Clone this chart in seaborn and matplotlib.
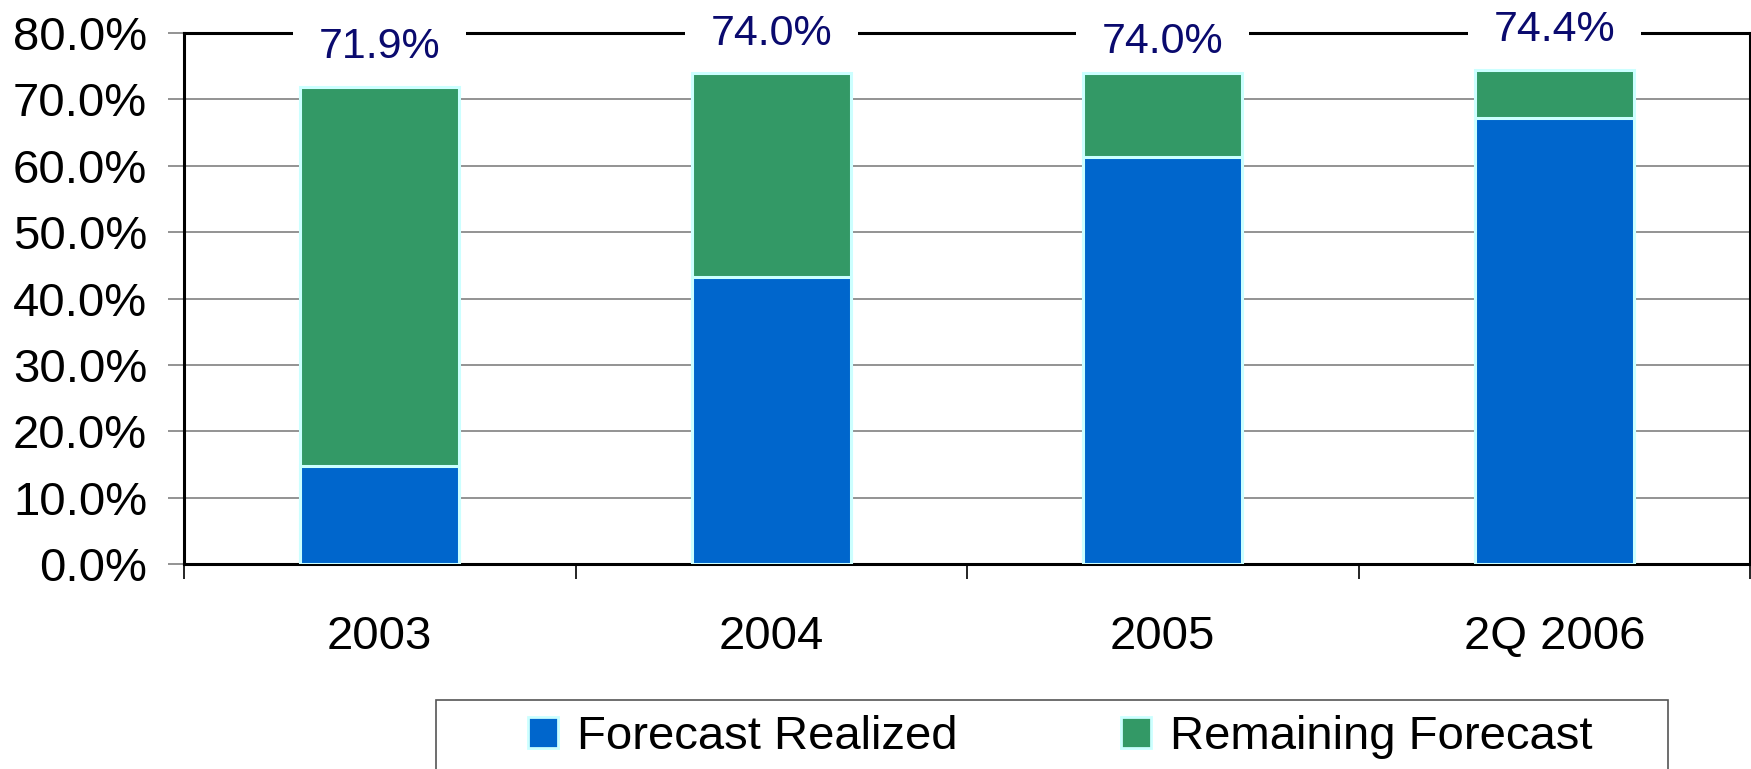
import matplotlib
matplotlib.use("Agg")
import matplotlib.pyplot as plt
from matplotlib.patches import Patch, Rectangle
import seaborn as sns
import pandas as pd

# Forecast progress per period (percent)
periods = ["2003", "2004", "2005", "2Q 2006"]
forecast_total = [71.9, 74.0, 74.0, 74.4]
forecast_realized = [14.8, 43.3, 61.3, 67.2]
total_labels = ["71.9%", "74.0%", "74.0%", "74.4%"]
y_ticks = [0, 10, 20, 30, 40, 50, 60, 70, 80]
series_names = ["Forecast Realized", "Remaining Forecast"]

# vertical placement of the total labels (axis units)
label_heights = [77.9, 79.9, 78.7, 80.4]

BLUE = "#0066cc"
GREEN = "#339966"
EDGE = "#ccffff"
NAVY = "#0a0a6e"

sns.set_theme(style="white")
plt.rcParams["font.family"] = ["Liberation Sans", "DejaVu Sans"]
plt.rcParams["text.color"] = "black"

df = pd.DataFrame({"period": periods,
                   "total": forecast_total,
                   "realized": forecast_realized})

W, H = 1751, 769
fig = plt.figure(figsize=(W / 100, H / 100), dpi=100)
ax = fig.add_axes([184 / W, 1 - 564 / H, 1566 / W, 531 / H])

# remaining part: full-height green bar, realized part drawn over it
sns.barplot(data=df, x="period", y="total", color=GREEN, width=0.405,
            edgecolor=EDGE, linewidth=2.2, saturation=1, errorbar=None,
            ax=ax, zorder=7)
sns.barplot(data=df, x="period", y="realized", color=BLUE, width=0.405,
            edgecolor=EDGE, linewidth=2.2, saturation=1, errorbar=None,
            ax=ax, zorder=8)

ax.set_xlim(-0.5, len(periods) - 0.5)
ax.set_ylim(0, 80)
ax.set_xlabel("")
ax.set_ylabel("")

# y axis
ax.set_yticks(y_ticks)
ax.set_yticklabels([f"{v:.1f}%" for v in y_ticks])
ax.tick_params(axis="y", which="major", left=True, direction="out",
               length=11.5, width=1.2, color="#808080", pad=15,
               labelsize=34, labelcolor="black")
ax.yaxis.grid(True, color="#808080", linewidth=1.2)
ax.xaxis.grid(False)
ax.set_axisbelow(True)

# x axis: ticks between categories, labels at centers
ax.set_xticks([i - 0.5 for i in range(len(periods) + 1)])
ax.set_xticklabels([])
ax.set_xticks(range(len(periods)), minor=True)
ax.set_xticklabels(periods, minor=True)
ax.tick_params(axis="x", which="major", bottom=True, direction="out",
               length=11, width=1.2, color="black")
ax.tick_params(axis="x", which="minor", bottom=True, length=0, pad=37,
               labelsize=34, labelcolor="black")

for s in ax.spines.values():
    s.set_visible(True)
    s.set_color("black")
    s.set_linewidth(2.2)

# total labels sitting on the top frame line
for i, (txt, h) in enumerate(zip(total_labels, label_heights)):
    ax.text(i, h, txt, ha="center", va="center", fontsize=31, color=NAVY,
            zorder=6, clip_on=False,
            bbox=dict(boxstyle="square,pad=0.6", facecolor="white",
                      edgecolor="none"))

# legend box (runs off the bottom edge)
fig.add_artist(Rectangle((436 / W, -0.05), (1668 - 436) / W,
                         (1 - 700 / H) + 0.05, transform=fig.transFigure,
                         facecolor="white", edgecolor="#555555",
                         linewidth=1.2))
handles = [Patch(facecolor=BLUE, edgecolor=EDGE, linewidth=2),
           Patch(facecolor=GREEN, edgecolor=EDGE, linewidth=2)]
fig.legend(handles, series_names, loc="center left",
           bbox_to_anchor=(528 / W, 1 - 737 / H), ncol=2, frameon=False,
           fontsize=34, handlelength=0.64, handleheight=0.64,
           handletextpad=0.4, columnspacing=3.45, borderpad=0,
           borderaxespad=0, labelcolor="black")

fig.savefig("out.png", dpi=100)
